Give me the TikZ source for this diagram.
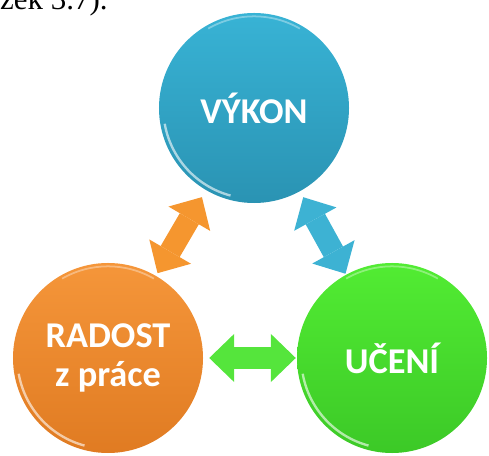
\documentclass[tikz,border=0pt]{standalone}
\usepackage{fontspec}
\setmainfont{Liberation Serif}
\newfontfamily\ballfont{Carlito}
\usetikzlibrary{arrows.meta}

\definecolor{vykontop}{HTML}{38B3D5}
\definecolor{vykonbot}{HTML}{2A93B3}
\definecolor{radosttop}{HTML}{F5963A}
\definecolor{radostbot}{HTML}{E07B22}
\definecolor{ucenitop}{HTML}{52EC33}
\definecolor{ucenibot}{HTML}{3CC927}
\definecolor{orangearrow}{HTML}{F5962F}
\definecolor{bluearrow}{HTML}{3DB2D3}
\definecolor{greenarrow}{HTML}{55E53C}

\tikzset{
  ball/.style={circle,minimum size=5.7cm,inner sep=0pt,text=white,
    font=\ballfont\bfseries\fontsize{31}{34}\selectfont,align=center,
    path picture={
      \draw[white,opacity=.6,line width=2pt]
        ([shift={(190:2.72cm)}]path picture bounding box.center)
        arc[start angle=190,end angle=255,radius=2.72cm];
      \draw[white,opacity=.35,line width=1.5pt]
        ([shift={(60:2.75cm)}]path picture bounding box.center)
        arc[start angle=60,end angle=120,radius=2.75cm];
    }},
  link/.style={line width=0.66cm,
    {Triangle[length=0.75cm,width=1.45cm,line width=0pt]}-{Triangle[length=0.75cm,width=1.45cm,line width=0pt]}}
}

\begin{document}
\begin{tikzpicture}[x=0.03cm,y=0.03cm]
  \useasboundingbox (0,0) rectangle (489,455);
  \clip (0,0) rectangle (489,455);

  \node[anchor=base west,inner sep=0pt,font=\fontsize{26.4}{30}\selectfont] (odkaz) at (0,445) {zek 3.7).};

  \begin{scope}[every node/.style={ball}]
    \node[top color=vykontop,bottom color=vykonbot] (vykon) at (254,347) {VÝKON};
    \node[top color=radosttop,bottom color=radostbot] (radost) at (108,97) {RADOST\\z práce};
    \node[top color=ucenitop,bottom color=ucenibot] (uceni) at (392,97) {UČENÍ};
  \end{scope}

  \begin{scope}[every path/.style={link}]
    \draw[orangearrow,shorten <=0.09cm,shorten >=0.24cm] (radost) -- (vykon);
    \draw[bluearrow,shorten <=0.2cm,shorten >=0.03cm] (vykon) -- (uceni);
    \draw[greenarrow,shorten <=0.18cm,shorten >=0.03cm] (radost) -- (uceni);
  \end{scope}
\end{tikzpicture}
\end{document}
